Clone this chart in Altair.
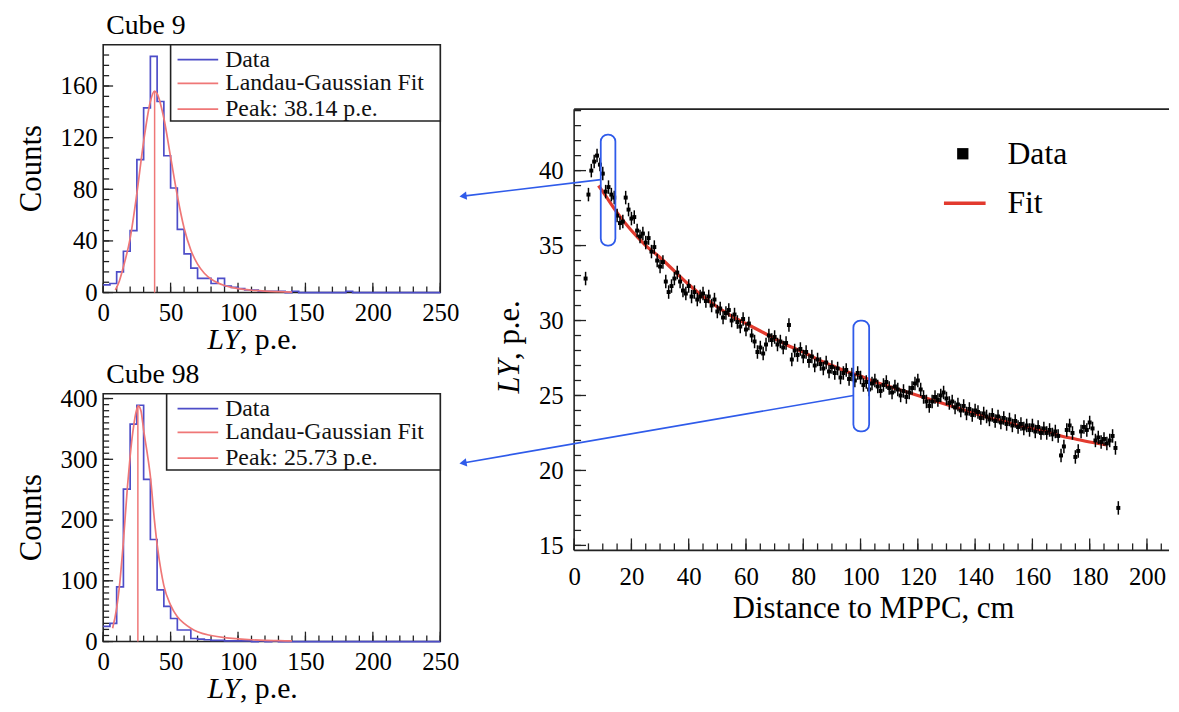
import altair as alt
import pandas as pd
import numpy as np

FONT = "Liberation Serif"
AXC = "#222222"
BLUE_H = "#4d4dc8"
RED_H = "#ef7777"
RED_F = "#e23a2e"
BLUE_A = "#2f5bea"

# ---------------- Histogram data (bin width 5 p.e., 0..250) ----------------
BIN_EDGES = list(range(0, 255, 5))
CUBE9_COUNTS = [6, 7, 16, 32, 48, 103, 143, 183, 148, 106,
                81, 49, 30, 19, 11, 11, 7, 11, 5, 4,
                3, 2, 2, 1, 1, 1, 1, 0, 1, 0,
                0, 0, 0, 0, 0, 0, 1, 0, 0, 0,
                0, 0, 0, 0, 0, 0, 0, 0, 0, 0]
CUBE98_COUNTS = [25, 30, 90, 251, 358, 389, 267, 168, 85, 58,
                 38, 19, 19, 5, 4, 3, 2, 2, 1, 1,
                 1, 1, 0, 1, 0, 1, 0, 0, 0, 0,
                 0, 0, 0, 0, 0, 0, 0, 0, 0, 0,
                 0, 0, 0, 0, 0, 0, 0, 0, 0, 0]
CUBE9_FIT_X = [9, 10, 12, 15, 20, 25, 30, 35, 38, 40, 45, 50, 55, 60, 65, 70, 75,
               80, 85, 90, 95, 100, 110, 120, 130, 140]
CUBE9_FIT_Y = [2, 4, 9, 20, 42, 77, 117, 148, 156, 154, 135, 105, 75, 50, 33, 22, 15,
               10.5, 7.5, 5.5, 4, 3, 1.8, 1.1, 0.7, 0.4]
CUBE98_FIT_X = [7, 10, 12, 15, 18, 20, 22, 25, 26, 28, 30, 33, 35, 38, 40, 43, 45, 50,
                55, 60, 65, 70, 80, 90, 100, 110, 120, 130, 140]
CUBE98_FIT_Y = [22, 55, 90, 165, 255, 305, 345, 383, 388, 380, 348, 305, 272, 200, 160,
                115, 92, 60, 41, 30, 22, 16, 10, 6.5, 4.5, 3, 2, 1.5, 1]
CUBE9_PEAK, CUBE9_PEAK_H = 38.14, 156
CUBE98_PEAK, CUBE98_PEAK_H = 25.73, 388
LEGEND9 = ["Data", "Landau-Gaussian Fit", "Peak: 38.14 p.e."]
LEGEND98 = ["Data", "Landau-Gaussian Fit", "Peak: 25.73 p.e."]
HIST_X_LABELS = [0, 50, 100, 150, 200, 250]
CUBE9_Y_LABELS = [0, 40, 80, 120, 160]
CUBE98_Y_LABELS = [0, 100, 200, 300, 400]

# ---------------- Light yield vs distance ----------------
DIST = list(range(4, 191))
LY = [32.8, 38.4, 40.0, 40.6, 41.0, 40.4, 39.8, 38.6, 38.9, 38.4,
      38.2, 37.0, 36.5, 36.6, 38.2, 37.4, 36.8, 36.9, 36.0, 35.6,
      35.8, 35.2, 35.5, 34.6, 34.9, 34.0, 33.6, 33.9, 32.6, 31.9,
      32.3, 32.8, 33.2, 32.6, 32.0, 31.8, 32.3, 31.6, 31.9, 31.4,
      31.6, 31.8, 31.3, 31.6, 31.0, 31.4, 30.6, 30.8, 30.2, 30.5,
      30.7, 30.0, 30.4, 29.9, 29.6, 30.1, 29.4, 29.8, 29.0, 28.6,
      27.9, 28.2, 27.8, 28.4, 29.0, 28.7, 28.9, 28.4, 28.6, 28.2,
      28.5, 29.7, 27.4, 28.0, 27.7, 28.1, 27.6, 27.9, 27.3, 27.6,
      27.0, 27.4, 27.1, 26.8, 27.2, 26.6, 26.9, 26.5, 26.8, 26.2,
      26.5, 26.7, 26.1, 26.4, 26.0, 26.5, 26.2, 25.7, 25.9, 25.4,
      25.8, 26.0, 25.6, 25.3, 25.7, 25.9, 25.5, 25.2, 25.6, 25.4,
      25.0, 25.3, 24.9, 25.2, 25.5, 25.8, 26.0, 25.4, 24.9, 24.6,
      24.3, 24.6, 24.9, 24.7, 25.0, 25.2, 24.8, 24.5, 24.6, 24.2,
      24.4, 24.0, 24.3, 23.8, 24.1, 23.7, 24.0, 23.9, 23.5, 23.8,
      23.6, 23.4, 23.7, 23.3, 23.6, 23.2, 23.5, 23.1, 23.4, 23.0,
      23.3, 22.9, 23.1, 22.8, 23.0, 22.7, 23.0, 22.6, 22.9, 22.5,
      22.8, 22.5, 22.7, 22.4, 22.6, 22.3, 21.0, 21.6, 22.7, 23.0,
      22.5, 20.9, 21.3, 22.6, 22.9, 22.7, 23.2, 22.8, 22.0, 22.2,
      21.9, 22.1, 21.8, 22.0, 22.3, 21.5, 17.5]
LY_ERR = 0.45
DIST_ERR = 0.5
FIT_X = [8.5, 10, 15, 20, 25, 30, 35, 40, 45, 50, 55, 60, 65, 70, 75, 80, 85, 90, 95,
         100, 105, 110, 115, 120, 125, 130, 135, 140, 145, 150, 155, 160, 165, 170,
         175, 180, 186]
FIT_Y = [39.0, 38.6, 37.2, 36.0, 35.0, 34.2, 33.3, 32.4, 31.6, 30.9, 30.3, 29.8, 29.3,
         28.8, 28.3, 27.9, 27.4, 27.0, 26.6, 26.3, 25.9, 25.6, 25.3, 25.0, 24.7, 24.4,
         24.1, 23.8, 23.5, 23.3, 23.0, 22.8, 22.6, 22.3, 22.1, 21.9, 21.7]
RIGHT_X_LABELS = [0, 20, 40, 60, 80, 100, 120, 140, 160, 180, 200]
RIGHT_Y_LABELS = [15, 20, 25, 30, 35, 40]
# highlighted cubes (rounded boxes) and arrows to the histograms
BOX_X1 = [9.3, 97.5]
BOX_X2 = [14.4, 103.0]
BOX_Y1 = [35.0, 22.6]
BOX_Y2 = [42.4, 30.0]
ARROW_X1 = [9.3, 97.5]
ARROW_Y1 = [39.4, 25.0]
ARROW_X2 = [-38.8, -38.8]
ARROW_Y2 = [38.3, 20.5]
ARROW_ANGLE = [353, 350]

ONE = pd.DataFrame({"k": [0]})


def text_at(txt, x, y, size, align="center", angle=0, style="normal", color="black"):
    return alt.Chart(ONE).mark_text(
        text=txt, font=FONT, fontSize=size, align=align, baseline="middle",
        angle=angle, fontStyle=style, color=color, clip=False
    ).encode(x=alt.value(x), y=alt.value(y))


def tick_layers(xs, ys, xax, yax, xmaj, xmin, ymaj, ymin, H, lmaj, lmin):
    out = []
    for vals, L in [(ymaj, lmaj), (ymin, lmin)]:
        out.append(alt.Chart(pd.DataFrame({"y": vals})).mark_rule(color=AXC, strokeWidth=1.3).encode(
            y=alt.Y("y:Q", scale=ys, axis=yax), x=alt.value(0), x2=alt.value(L)))
    for vals, L in [(xmaj, lmaj), (xmin, lmin)]:
        out.append(alt.Chart(pd.DataFrame({"x": vals})).mark_rule(color=AXC, strokeWidth=1.3).encode(
            x=alt.X("x:Q", scale=xs, axis=xax), y=alt.value(H), y2=alt.value(H - L)))
    return out


def hist_panel(counts, fx, fy, peak, peak_h, ymax, ylabels, yminor, title, legend, box_left):
    W, H = 340, 250
    xs = alt.Scale(domain=[0, 250], nice=False, zero=False)
    ys = alt.Scale(domain=[0, ymax], nice=False, zero=False)
    xax = alt.Axis(values=HIST_X_LABELS, title=None, labelPadding=8, labelFontSize=25,
                   labelFlush=False, labelOverlap=False, grid=False, ticks=False, domain=False)
    yax = alt.Axis(values=ylabels, title=None, labelPadding=6, labelFontSize=25,
                   labelOverlap=False, grid=False, ticks=False, domain=False)
    hdf = pd.DataFrame({"x": BIN_EDGES, "y": counts + [counts[-1]]})
    hist = alt.Chart(hdf).mark_line(interpolate="step-after", color=BLUE_H, strokeWidth=1.7).encode(
        x=alt.X("x:Q", scale=xs, axis=xax), y=alt.Y("y:Q", scale=ys, axis=yax))
    fit = alt.Chart(pd.DataFrame({"x": fx, "y": fy})).mark_line(
        interpolate="monotone", color=RED_H, strokeWidth=1.7).encode(
        x=alt.X("x:Q", scale=xs, axis=xax), y=alt.Y("y:Q", scale=ys, axis=yax))
    pk = alt.Chart(pd.DataFrame({"x": [peak], "y": [0], "y2": [peak_h]})).mark_rule(
        color=RED_H, strokeWidth=1.5).encode(
        x=alt.X("x:Q", scale=xs, axis=xax), y=alt.Y("y:Q", scale=ys, axis=yax), y2="y2:Q")
    ticks = tick_layers(xs, ys, xax, yax, HIST_X_LABELS, list(range(0, 251, 10)),
                        ylabels, list(np.arange(0, ymax, yminor)), H, 10, 6)
    box = alt.Chart(ONE).mark_rect(fill="white", stroke=AXC, strokeWidth=1.6).encode(
        x=alt.value(box_left), x2=alt.value(W), y=alt.value(0), y2=alt.value(77))
    leg = []
    for lab, yy, col in zip(legend, [15, 39, 65], [BLUE_H, RED_H, RED_H]):
        leg.append(alt.Chart(ONE).mark_rule(color=col, strokeWidth=1.8).encode(
            x=alt.value(75), x2=alt.value(116), y=alt.value(yy)))
        leg.append(text_at(lab, 123, yy, 24, align="left", color="#111"))
    texts = [
        text_at(title, 3, -19, 28, align="left"),
        text_at("Counts", -72, 125, 31, angle=270),
        text_at("LY", 138, 298, 30, align="right", style="italic"),
        text_at(", p.e.", 138, 298, 30, align="left"),
    ]
    return alt.layer(*ticks, hist, fit, pk, box, *leg, *texts).properties(width=W, height=H)


top = hist_panel(CUBE9_COUNTS, CUBE9_FIT_X, CUBE9_FIT_Y, CUBE9_PEAK, CUBE9_PEAK_H,
                 192, CUBE9_Y_LABELS, 8, "Cube 9", LEGEND9, 68)
bottom = hist_panel(CUBE98_COUNTS, CUBE98_FIT_X, CUBE98_FIT_Y, CUBE98_PEAK, CUBE98_PEAK_H,
                    408, CUBE98_Y_LABELS, 10, "Cube 98", LEGEND98, 64)

# ---------------- right panel (frame cut at the right edge) ----------------
RW, RH = 600, 445
rxs = alt.Scale(domain=[0, 207.7], nice=False, zero=False)
rys = alt.Scale(domain=[14.67, 44.1], nice=False, zero=False)
rxax = alt.Axis(values=RIGHT_X_LABELS, title=None, labelPadding=14, labelFontSize=25,
                labelFlush=False, labelOverlap=False, grid=False, ticks=False, domain=False)
ryax = alt.Axis(values=RIGHT_Y_LABELS, title=None, labelPadding=11, labelFontSize=25,
                labelOverlap=False, grid=False, ticks=False, domain=False)

ddf = pd.DataFrame({"x": DIST, "y": LY})
ddf["ylo"] = ddf["y"] - LY_ERR
ddf["yhi"] = ddf["y"] + LY_ERR
ddf["xlo"] = ddf["x"] - DIST_ERR
ddf["xhi"] = ddf["x"] + DIST_ERR

vbar = alt.Chart(ddf).mark_rule(color="black", strokeWidth=1.5).encode(
    x=alt.X("x:Q", scale=rxs, axis=rxax), y=alt.Y("ylo:Q", scale=rys, axis=ryax), y2="yhi:Q")
hbar = alt.Chart(ddf).mark_rule(color="black", strokeWidth=1.5).encode(
    x=alt.X("xlo:Q", scale=rxs, axis=rxax), x2="xhi:Q", y=alt.Y("y:Q", scale=rys, axis=ryax))
pts = alt.Chart(ddf).mark_square(color="black", size=16, opacity=1).encode(
    x=alt.X("x:Q", scale=rxs, axis=rxax), y=alt.Y("y:Q", scale=rys, axis=ryax))
rfit = alt.Chart(pd.DataFrame({"x": FIT_X, "y": FIT_Y})).mark_line(
    color=RED_F, strokeWidth=3.2, interpolate="monotone").encode(
    x=alt.X("x:Q", scale=rxs, axis=rxax), y=alt.Y("y:Q", scale=rys, axis=ryax))

bdf = pd.DataFrame({"x": BOX_X1, "x2": BOX_X2, "y": BOX_Y1, "y2": BOX_Y2})
boxes = alt.Chart(bdf).mark_rect(filled=False, color=BLUE_A, strokeWidth=1.8,
                                 cornerRadius=7, clip=False).encode(
    x=alt.X("x:Q", scale=rxs, axis=rxax), x2="x2:Q",
    y=alt.Y("y:Q", scale=rys, axis=ryax), y2="y2:Q")
adf = pd.DataFrame({"x": ARROW_X1, "y": ARROW_Y1, "x2": ARROW_X2, "y2": ARROW_Y2,
                    "ang": ARROW_ANGLE})
arrows = alt.Chart(adf).mark_rule(color=BLUE_A, strokeWidth=1.6, clip=False).encode(
    x=alt.X("x:Q", scale=rxs, axis=rxax), x2="x2:Q",
    y=alt.Y("y:Q", scale=rys, axis=ryax), y2="y2:Q")
heads = alt.Chart(adf).mark_point(shape="triangle-left", filled=True, color=BLUE_A,
                                  size=70, opacity=1, clip=False).encode(
    x=alt.X("x2:Q", scale=rxs, axis=rxax), y=alt.Y("y2:Q", scale=rys, axis=ryax),
    angle=alt.Angle("ang:Q", scale=None))

rticks = tick_layers(rxs, rys, rxax, ryax, RIGHT_X_LABELS, list(range(0, 206, 5)),
                     RIGHT_Y_LABELS, list(range(15, 45)), RH, 12, 7)

frame = [
    alt.Chart(ONE).mark_rule(color=AXC, strokeWidth=1.6).encode(
        x=alt.value(0), x2=alt.value(RW), y=alt.value(0)),
    alt.Chart(ONE).mark_rule(color=AXC, strokeWidth=1.6).encode(
        x=alt.value(0), x2=alt.value(RW), y=alt.value(RH)),
    alt.Chart(ONE).mark_rule(color=AXC, strokeWidth=1.6).encode(
        x=alt.value(0), y=alt.value(0), y2=alt.value(RH)),
]

rleg = [
    alt.Chart(ONE).mark_square(color="black", size=130, opacity=1).encode(
        x=alt.value(392), y=alt.value(45)),
    text_at("Data", 437, 45, 32, align="left"),
    alt.Chart(ONE).mark_rule(color=RED_F, strokeWidth=3.5).encode(
        x=alt.value(373), x2=alt.value(415), y=alt.value(95)),
    text_at("Fit", 437, 95, 32, align="left"),
]
rtexts = [
    text_at("LY", -65, 253, 31, align="right", angle=270, style="italic"),
    text_at(", p.e.", -65, 253, 31, align="left", angle=270),
    text_at("Distance to MPPC, cm", 302, 504, 31),
]
right = alt.layer(*frame, *rticks, rfit, vbar, hbar, pts, boxes, arrows, heads, *rleg,
                  *rtexts).properties(width=RW, height=RH,
                                      view=alt.ViewBackground(stroke="transparent"))

spacer = alt.Chart(ONE).mark_text(text=" ", opacity=0).encode(
    x=alt.value(0), y=alt.value(0)).properties(
    width=RW, height=5, view=alt.ViewBackground(stroke="transparent"))

left_col = alt.vconcat(top, bottom, spacing=102, bounds="flush")
right_col = alt.vconcat(spacer, right, spacing=60, bounds="flush")
chart = alt.hconcat(left_col, right_col, spacing=475, bounds="flush").properties(
    padding={"left": 7, "top": 0, "right": 0, "bottom": 0}
).configure(font=FONT).configure_view(stroke=AXC, strokeWidth=1.6).configure_axis(
    grid=False, ticks=False, domain=False, tickSize=0, labelFont=FONT, labelColor="black"
)

chart.save("out.html", embed_options={"renderer": "svg", "actions": False})
